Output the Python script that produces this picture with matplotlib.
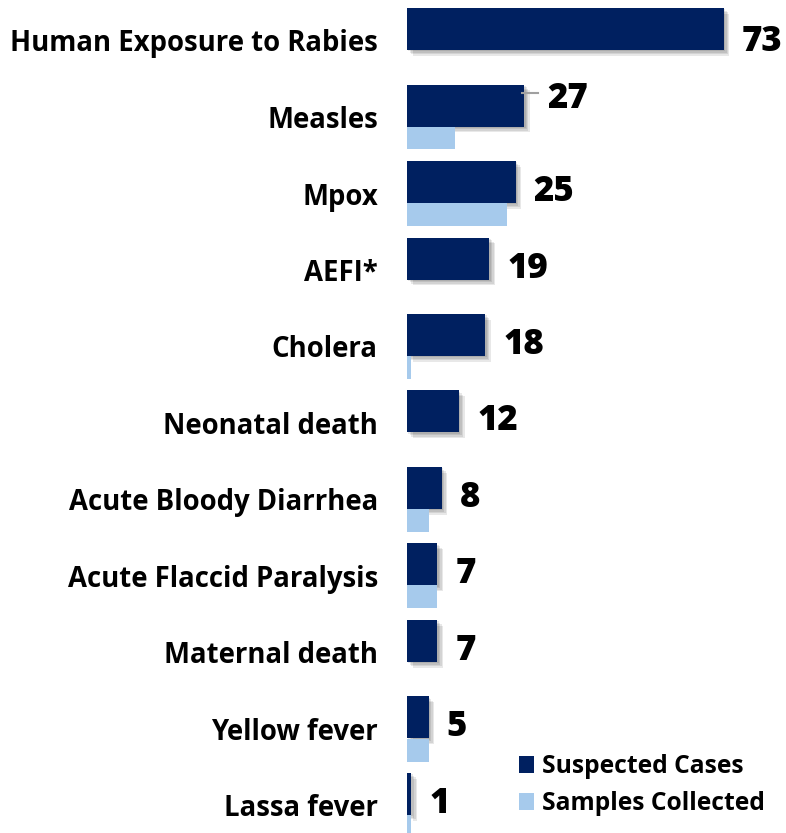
import numpy as np
import matplotlib
matplotlib.use("Agg")
import matplotlib.pyplot as plt
import matplotlib.patheffects as pe
from matplotlib.patches import Patch

# suspected cases vs samples collected by priority disease
diseases = ["Human Exposure to Rabies", "Measles", "Mpox", "AEFI*", "Cholera",
            "Neonatal death", "Acute Bloody Diarrhea", "Acute Flaccid Paralysis",
            "Maternal death", "Yellow fever", "Lassa fever"]
suspected = [73, 27, 25, 19, 18, 12, 8, 7, 7, 5, 1]
samples = [0, 11, 23, 0, 1, 0, 5, 7, 0, 5, 1]

dark = "#002060"
light = "#A6CAEC"

W, H = 786, 833
fig = plt.figure(figsize=(W / 100, H / 100), dpi=100)
ax = fig.add_axes([407 / W, 0, 379 / W, 1])

xpx = 4.34      # pixels per case
ypx = 76.5      # pixels per category row
y = np.arange(len(diseases))

# dark bar sits on top, light bar just below it
dark_c = y - 11.5 / ypx
light_c = y + 21 / ypx

shadow = [pe.SimplePatchShadow(offset=(o, -o), shadow_rgbFace="k", alpha=0.09)
          for o in (1.0, 2.0, 3.0, 4.0)] + [pe.Normal()]

ax.barh(dark_c, suspected, height=42 / ypx, color=dark, zorder=2,
        path_effects=shadow)
ax.barh(light_c, samples, height=23 / ypx, color=light, zorder=3)

for i, v in enumerate(suspected):
    dy = 10
    dx = 18
    if i == 0:
        dy = 13
    if diseases[i] == "Measles":
        dy, dx = -6, 23
        ax.plot([v - 0.4, v + 14 / xpx], [dark_c[i] - 13 / ypx] * 2,
                color="#A0A0A0", lw=1.5, zorder=4)
    ax.text(v + dx / xpx, dark_c[i] + dy / ypx, str(v), ha="left", va="center",
            fontsize=25, fontweight="heavy", family="Open Sans", color="black")

ax.set_xlim(0, 379 / xpx)
ax.set_ylim((H - 40.5) / ypx, -40.5 / ypx)
ax.set_yticks(y, diseases)
ax.set_xticks([])
ax.tick_params(axis="y", length=0, pad=21)
for lbl in ax.get_yticklabels():
    lbl.set_fontfamily("Open Sans")
    lbl.set_fontweight("bold")
    lbl.set_fontsize(19.8)
for s in ax.spines.values():
    s.set_visible(False)
ax.patch.set_visible(False)

handles = [Patch(facecolor=dark, label="Suspected Cases"),
           Patch(facecolor=light, label="Samples Collected")]
leg = fig.legend(handles=handles, loc="upper left",
                 bbox_to_anchor=(519 / W, 1 - 754 / H), frameon=False,
                 borderpad=0, borderaxespad=0, handlelength=0.6,
                 handleheight=0.7, handletextpad=0.35, labelspacing=0.5,
                 prop={"family": "Open Sans", "weight": "bold", "size": 17.7})

fig.savefig("out.png", dpi=100)
